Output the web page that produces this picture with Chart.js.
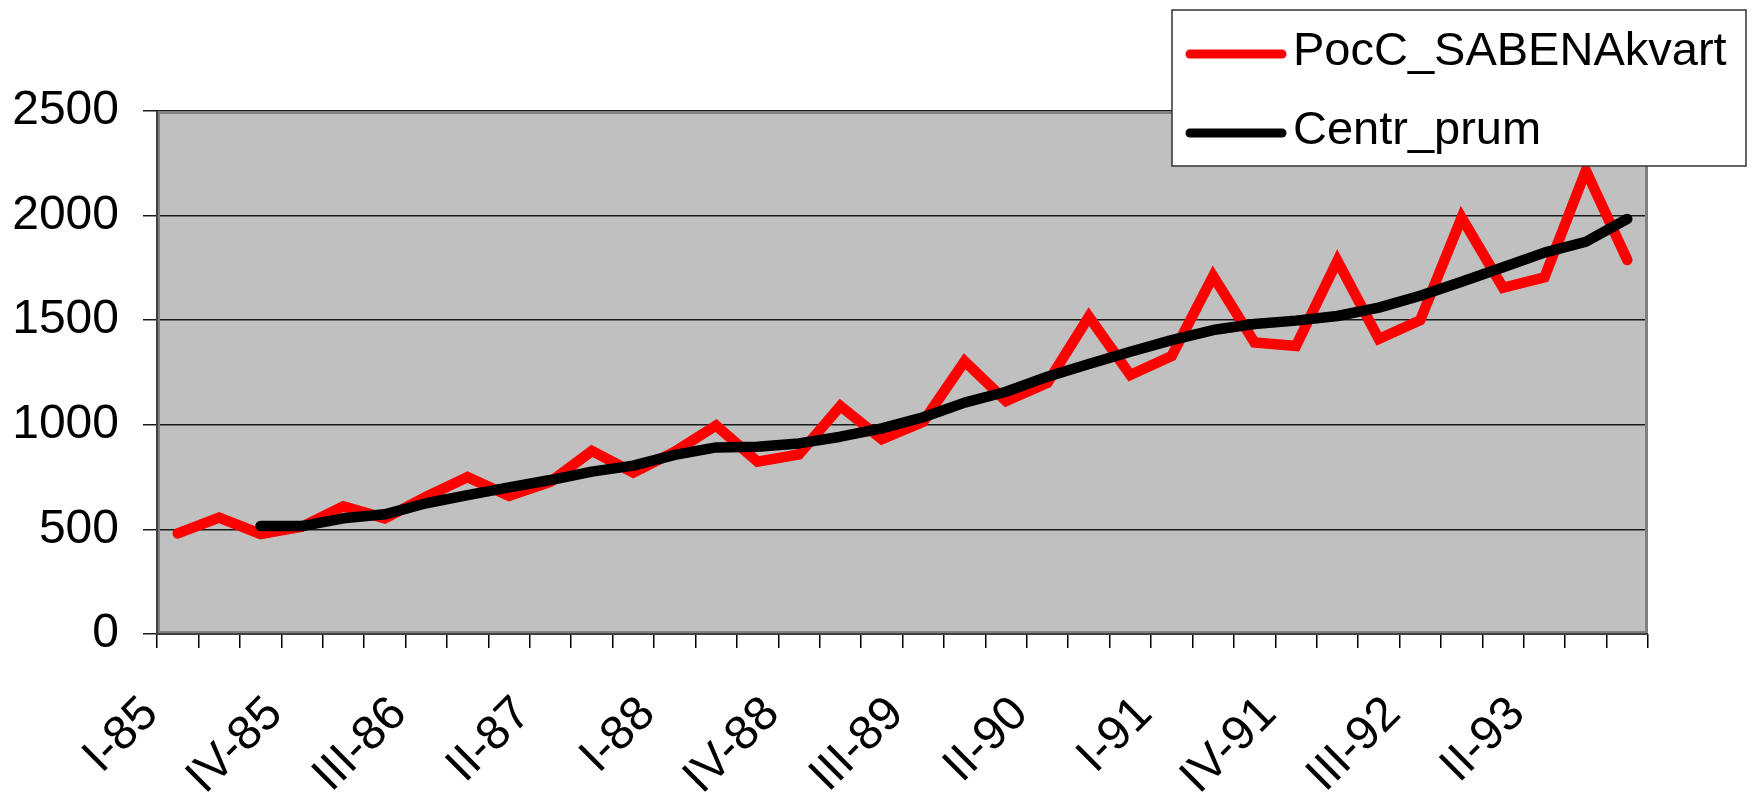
<!DOCTYPE html>
<html>
<head>
<meta charset="utf-8">
<script src="https://cdn.jsdelivr.net/npm/chart.js@4.4.1/dist/chart.umd.min.js"></script>
<style>
html,body{margin:0;padding:0;background:#fff;}
#wrap{width:1760px;height:792px;position:relative;}
</style>
</head>
<body>
<div id="wrap"><canvas id="c" width="1760" height="792"></canvas></div>
<script>
// ---- data ----
const categories = [
  'I-85','II-85','III-85','IV-85',
  'I-86','II-86','III-86','IV-86',
  'I-87','II-87','III-87','IV-87',
  'I-88','II-88','III-88','IV-88',
  'I-89','II-89','III-89','IV-89',
  'I-90','II-90','III-90','IV-90',
  'I-91','II-91','III-91','IV-91',
  'I-92','II-92','III-92','IV-92',
  'I-93','II-93','III-93','IV-93'
];
const seriesNames = ['PocC_SABENAkvart', 'Centr_prum'];
const pocValues = [
  481, 556, 478, 513, 610, 553, 656, 750, 660, 728, 875, 771,
  871, 997, 824, 859, 1090, 931, 1015, 1304, 1114, 1201, 1517, 1238,
  1329, 1711, 1393, 1377, 1784, 1410, 1500, 1990, 1655, 1705, 2215, 1788
];
const centrValues = [
  null, null, 516, 516, 553, 572, 625, 664, 701, 736, 776, 805,
  856, 892, 895, 911, 943, 983, 1036, 1106, 1158, 1230, 1291, 1349,
  1405, 1453, 1482, 1498, 1520, 1560, 1617, 1684, 1753, 1823, 1875, 1984
];
const yTicks = [0, 500, 1000, 1500, 2000, 2500];
const labelEvery = 3;

const FONT = "'Liberation Sans', Arial, sans-serif";

const plotFrame = {
  id: 'plotFrame',
  beforeDraw(chart) {
    const {ctx, chartArea: a} = chart;
    ctx.save();
    ctx.fillStyle = '#C0C0C0';
    ctx.fillRect(a.left, a.top, a.right - a.left, a.bottom - a.top);
    ctx.restore();
  },
  beforeDatasetsDraw(chart) {
    const {ctx, chartArea: a} = chart;
    ctx.save();
    ctx.strokeStyle = '#808080';
    ctx.lineWidth = 3;
    ctx.strokeRect(a.left + 1.5, a.top + 1.5, a.right - a.left - 3, a.bottom - a.top - 3);
    ctx.strokeStyle = '#404040';
    ctx.lineWidth = 2;
    ctx.beginPath();
    ctx.moveTo(a.left, a.top);
    ctx.lineTo(a.left, a.bottom);
    ctx.lineTo(a.right, a.bottom);
    ctx.stroke();
    ctx.restore();
  }
};

const boxLegend = {
  id: 'boxLegend',
  afterDraw(chart) {
    const ctx = chart.ctx;
    const bx = 1172, by = 10, bw = 574, bh = 156;
    ctx.save();
    ctx.fillStyle = '#fff';
    ctx.fillRect(bx, by, bw, bh);
    ctx.strokeStyle = '#333';
    ctx.lineWidth = 1.5;
    ctx.strokeRect(bx, by, bw, bh);
    const rows = [{ly: 54, ty: 65}, {ly: 133, ty: 144}];
    const ds = chart.data.datasets;
    ds.forEach((d, i) => {
      const r = rows[i];
      ctx.strokeStyle = d.borderColor;
      ctx.lineWidth = 9;
      ctx.lineCap = 'round';
      ctx.beginPath();
      ctx.moveTo(1190, r.ly);
      ctx.lineTo(1282, r.ly);
      ctx.stroke();
      ctx.fillStyle = '#000';
      ctx.font = '47px ' + FONT;
      ctx.textBaseline = 'alphabetic';
      ctx.textAlign = 'left';
      ctx.fillText(d.label, 1293, r.ty);
    });
    ctx.restore();
  }
};

new Chart(document.getElementById('c'), {
  type: 'line',
  data: {
    labels: categories,
    datasets: [
      {
        label: seriesNames[0],
        data: pocValues,
        borderColor: '#FF0000',
        borderWidth: 10.5,
        pointRadius: 0,
        tension: 0,
        borderCapStyle: 'round',
        borderJoinStyle: 'miter',
        fill: false,
        order: 1
      },
      {
        label: seriesNames[1],
        data: centrValues,
        borderColor: '#000000',
        borderWidth: 10.5,
        pointRadius: 0,
        tension: 0,
        borderCapStyle: 'round',
        borderJoinStyle: 'round',
        fill: false,
        spanGaps: false,
        order: 0
      }
    ]
  },
  options: {
    responsive: false,
    devicePixelRatio: 1,
    animation: false,
    layout: { padding: { top: 111, right: 112, left: 0, bottom: 0 } },
    plugins: {
      legend: { display: false },
      tooltip: { enabled: false },
      title: { display: false }
    },
    scales: {
      x: {
        type: 'category',
        offset: true,
        border: { display: false },
        grid: {
          offset: true,
          drawOnChartArea: false,
          drawTicks: true,
          tickLength: 14,
          color: '#000',
          lineWidth: 1.5
        },
        ticks: {
          autoSkip: false,
          minRotation: 45,
          maxRotation: 45,
          labelOffset: -27,
          padding: 38,
          color: '#000',
          font: { family: FONT, size: 48 },
          callback: function(v, i) { return i % labelEvery === 0 ? categories[i] : ''; }
        },
        afterFit(scale) { scale.height = 158; }
      },
      y: {
        min: yTicks[0],
        max: yTicks[yTicks.length - 1],
        border: { display: false },
        grid: {
          color: '#1a1a1a',
          lineWidth: 1.5,
          drawTicks: true,
          tickLength: 14
        },
        afterBuildTicks(scale) { scale.ticks = yTicks.map(v => ({value: v})); },
        ticks: {
          padding: 24,
          color: '#000',
          font: { family: FONT, size: 48 },
          callback: function(v) { return String(v); }
        },
        afterFit(scale) { scale.width = 157; }
      }
    }
  },
  plugins: [plotFrame, boxLegend]
});
</script>
</body>
</html>
